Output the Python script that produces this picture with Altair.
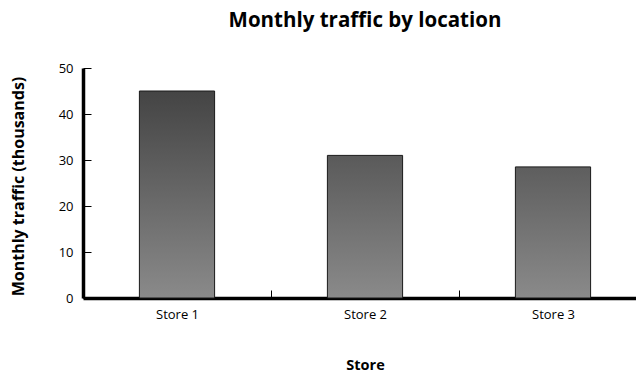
import altair as alt
import pandas as pd

stores = ["Store 1", "Store 2", "Store 3"]
traffic = [45, 31, 28.5]

df = pd.DataFrame({"store": stores, "traffic": traffic})

FONT = "Open Sans"
Y_MAX = 50
PLOT_W = 553      # visible plot width
BAND_SPAN = 564   # the three bands run slightly past the right edge
PLOT_H = 230


def shade(v):
    # grey level of the gradient at a given value on the y scale
    g = round(138 - 78 * v / Y_MAX)
    return "#{0:02x}{0:02x}{0:02x}".format(g)


x_enc = alt.X(
    "store:N",
    sort=stores,
    title="Store",
    scale=alt.Scale(paddingInner=0, paddingOuter=0, range=[0, BAND_SPAN]),
    axis=alt.Axis(
        tickBand="extent",
        grid=False,
        domainColor="black",
        domainWidth=3.5,
        tickColor="black",
        tickWidth=1,
        tickSize={"expr": "-8"},
        labelPadding=18,
        labelAngle=0,
        labelFont=FONT,
        labelFontSize=13,
        labelColor="black",
        titleFont=FONT,
        titleFontSize=14.5,
        titleFontWeight="bold",
        titleColor="black",
        titleBaseline="middle",
        titleX=BAND_SPAN / 2,
        titleY=67,
    ),
)

y_enc = alt.Y(
    "traffic:Q",
    title="Monthly traffic  (thousands)",
    scale=alt.Scale(domain=[0, Y_MAX], nice=False),
    axis=alt.Axis(
        values=[0, 10, 20, 30, 40, 50],
        grid=False,
        domainColor="black",
        domainWidth=3.5,
        tickColor="black",
        tickWidth=1,
        tickSize={"expr": "-8"},
        labelPadding=18,
        labelFont=FONT,
        labelFontSize=13,
        labelColor="black",
        titleFont=FONT,
        titleFontSize=16,
        titleFontWeight="bold",
        titleColor="black",
        titleBaseline="middle",
        titleX=-65,
        titleY=PLOT_H / 2 + 3,
    ),
)

layers = []
for s, v in zip(stores, traffic):
    grad = alt.LinearGradient(
        gradient="linear",
        x1=0, y1=0, x2=0, y2=1,
        stops=[
            alt.GradientStop(offset=0, color=shade(v)),
            alt.GradientStop(offset=1, color=shade(0)),
        ],
    )
    layers.append(
        alt.Chart(df)
        .transform_filter(alt.datum.store == s)
        .mark_bar(
            fill=grad,
            stroke="#1a1a1a",
            strokeWidth=1,
            width=alt.RelativeBandSize(0.4),
        )
        .encode(x=x_enc, y=y_enc)
    )

chart = (
    alt.layer(*layers)
    .properties(
        width=PLOT_W,
        height=PLOT_H,
        background="white",
        title=alt.TitleParams(
            "Monthly traffic by location",
            font=FONT,
            fontSize=20.5,
            fontWeight="bold",
            color="black",
            anchor="middle",
            frame="group",
            dx=(BAND_SPAN - PLOT_W) / 2,
            offset=31,
        ),
        autosize=alt.AutoSizeParams(type="none"),
        padding={"left": 83, "top": 68, "right": 0, "bottom": 76},
    )
    .configure_view(stroke="transparent", strokeWidth=0)
    .configure_axis(grid=False)
)

chart.save("out.html", embed_options={"renderer": "svg", "actions": False})
